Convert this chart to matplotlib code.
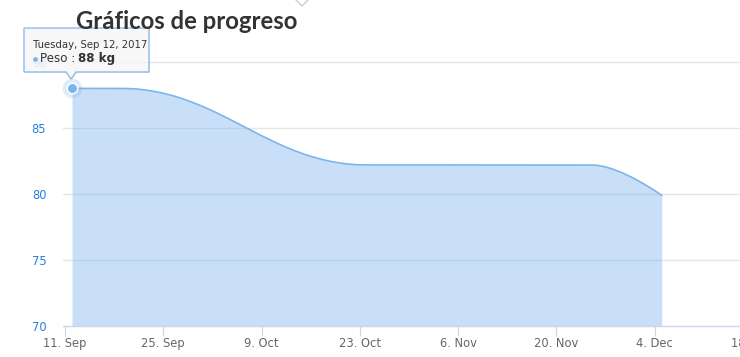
import numpy as np
import matplotlib
matplotlib.use("Agg")
import matplotlib.pyplot as plt
import matplotlib.dates as mdates
from matplotlib.patches import Polygon, Circle
import matplotlib.transforms as mtransforms
import datetime as dt

# ---- data ----
dates = ["2017-09-12", "2017-09-19", "2017-10-24", "2017-10-28", "2017-11-04",
         "2017-11-08", "2017-11-11", "2017-11-14", "2017-11-18", "2017-11-25",
         "2017-12-05"]
weights = [88, 88, 82.2, 82.2, 82.2, 82.2, 82.2, 82.2, 82.2, 82.2, 79.9]
tick_dates = ["2017-09-11", "2017-09-25", "2017-10-09", "2017-10-23",
              "2017-11-06", "2017-11-20", "2017-12-04", "2017-12-18"]
tick_labels = ["11. Sep", "25. Sep", "9. Oct", "23. Oct", "6. Nov", "20. Nov",
               "4. Dec", "18. Dec"]
y_ticks = [70, 75, 80, 85, 90]
title = "Gráficos de progreso"
tooltip_date = "Tuesday, Sep 12, 2017"
series_name = "Peso"
tooltip_value = "88 kg"

W, H = 740, 357
BLUE = "#7cb5ec"

def tonum(s):
    return mdates.date2num(dt.datetime.strptime(s, "%Y-%m-%d"))

xs = np.array([tonum(d) for d in dates])
ys = np.array(weights, dtype=float)


def hc_spline(xs, ys, smoothing=1.5, n=60):
    npt = len(xs)
    lc = [None] * npt
    rc = [None] * npt
    for i in range(1, npt - 1):
        px, py = xs[i], ys[i]
        lx, ly = xs[i - 1], ys[i - 1]
        nx, ny = xs[i + 1], ys[i + 1]
        den = smoothing + 1
        lcx = (smoothing * px + lx) / den
        lcy = (smoothing * py + ly) / den
        rcx = (smoothing * px + nx) / den
        rcy = (smoothing * py + ny) / den
        if rcx != lcx:
            corr = ((rcy - lcy) * (rcx - px)) / (rcx - lcx) + py - rcy
            lcy += corr
            rcy += corr
        if lcy > max(ly, py):
            lcy = max(ly, py); rcy = 2 * py - lcy
        elif lcy < min(ly, py):
            lcy = min(ly, py); rcy = 2 * py - lcy
        if rcy > max(py, ny):
            rcy = max(py, ny); lcy = 2 * py - rcy
        elif rcy < min(py, ny):
            rcy = min(py, ny); lcy = 2 * py - rcy
        lc[i] = (lcx, lcy)
        rc[i] = (rcx, rcy)
    outx, outy = [xs[0]], [ys[0]]
    t = np.linspace(0, 1, n)[1:]
    for i in range(1, npt):
        p0 = (xs[i - 1], ys[i - 1])
        p3 = (xs[i], ys[i])
        c1 = rc[i - 1] if rc[i - 1] is not None else p0
        c2 = lc[i] if lc[i] is not None else p3
        bx = (1 - t) ** 3 * p0[0] + 3 * (1 - t) ** 2 * t * c1[0] + 3 * (1 - t) * t ** 2 * c2[0] + t ** 3 * p3[0]
        by = (1 - t) ** 3 * p0[1] + 3 * (1 - t) ** 2 * t * c1[1] + 3 * (1 - t) * t ** 2 * c2[1] + t ** 3 * p3[1]
        outx.extend(bx); outy.extend(by)
    return np.array(outx), np.array(outy)


cx, cy = hc_spline(xs, ys)

fig = plt.figure(figsize=(W / 100, H / 100), dpi=100)
left_px, right_px, top_px, bottom_px = 63, 740, 55, 326
ax = fig.add_axes([left_px / W, 1 - bottom_px / H, (right_px - left_px) / W,
                   (bottom_px - top_px) / H])

# grid
for v in y_ticks[1:]:
    ax.axhline(v, color="#e6e6e6", lw=1, zorder=0)

ax.fill_between(cx, 70, cy, color=BLUE, alpha=0.42, lw=0, zorder=1)
ax.plot(cx, cy, color=BLUE, lw=1.2, zorder=2)

# marker with halo at first point
ax.plot([xs[0]], [ys[0]], "o", ms=14, color=BLUE, alpha=0.25, mew=0, zorder=3, clip_on=False)
ax.plot([xs[0]], [ys[0]], "o", ms=7.5, color=BLUE, mec="white", mew=1, zorder=4, clip_on=False)

for s in ["top", "right", "left"]:
    ax.spines[s].set_visible(False)
ax.spines["bottom"].set_color("#ccd6eb")
ax.spines["bottom"].set_linewidth(1)

ax.set_xticks([tonum(d) for d in tick_dates])
ax.set_xticklabels(tick_labels)
ax.tick_params(axis="x", length=7.2, width=0.8, color="#ccd6eb", pad=1,
               labelsize=8.3, labelcolor="#666666")
ax.set_yticks(y_ticks)
ax.set_yticklabels([str(v) for v in y_ticks])
ax.tick_params(axis="y", length=0, pad=12, labelsize=8.3, labelcolor="#2a7fd9")

# limits (after ticks, so set_xticks cannot expand them)
px_per_day = 7.02
x0 = tonum("2017-09-11") - (65 - left_px) / px_per_day
x1 = x0 + (right_px - left_px) / px_per_day
ax.set_xlim(x0, x1)
px_per_unit = 13.2
ax.set_ylim(70, 70 + (bottom_px - top_px) / px_per_unit)

# tick labels lying past the right edge (partly cut off, as in the reference)
blend = mtransforms.blended_transform_factory(ax.transData, ax.transAxes)
off = mtransforms.ScaledTranslation(0, -(8.2 / 72), fig.dpi_scale_trans)
for d, lab in zip(tick_dates, tick_labels):
    xv = tonum(d)
    if xv > x1:
        ax.text(xv, 0, lab, transform=blend + off, ha="center", va="top",
                fontsize=8.3, color="#666666", clip_on=False)

def P(x, y):
    return (x / W, 1 - y / H)

# title
fig.text(*P(76, 29), title, fontsize=17.2, fontweight="bold", family="Lato",
         color="#333333", ha="left", va="baseline")

# small chevron at top
fig.lines.append(plt.Line2D([P(296, 0)[0], P(302, 6)[0], P(308, 0)[0]],
                            [P(296, 0)[1], P(302, 6)[1], P(308, 0)[1]],
                            transform=fig.transFigure, color="#cccccc", lw=1))

# tooltip
pts = [P(24, 28), P(149, 28), P(149, 72), P(76, 72), P(71, 79), P(66, 72), P(24, 72)]
shadow = [(p[0] + 1 / W, p[1] - 1 / H) for p in pts]
fig.patches.append(Polygon(shadow, closed=True, transform=fig.transFigure,
                           facecolor="#000000", alpha=0.08, edgecolor="none"))
fig.patches.append(Polygon(pts, closed=True, transform=fig.transFigure,
                           facecolor="#f9f9f9", alpha=0.88, edgecolor=BLUE, lw=1))
fig.text(*P(33, 48), tooltip_date, fontsize=7.3, color="#333333", ha="left", va="baseline")
# series colour dot
fig.lines.append(plt.Line2D([P(35, 59)[0]], [P(35, 59)[1]], marker="o", ms=3.4,
                            color=BLUE, mew=0, transform=fig.transFigure))
t1 = fig.text(*P(39.5, 62), series_name + " : ", fontsize=8.6, color="#333333",
              ha="left", va="baseline")
fig.canvas.draw()
bb = t1.get_window_extent()
fig.text(bb.x1 / W, 1 - 62 / H, tooltip_value, fontsize=8.6, fontweight="bold",
         color="#333333", ha="left", va="baseline")

fig.savefig("out.png", dpi=100)
